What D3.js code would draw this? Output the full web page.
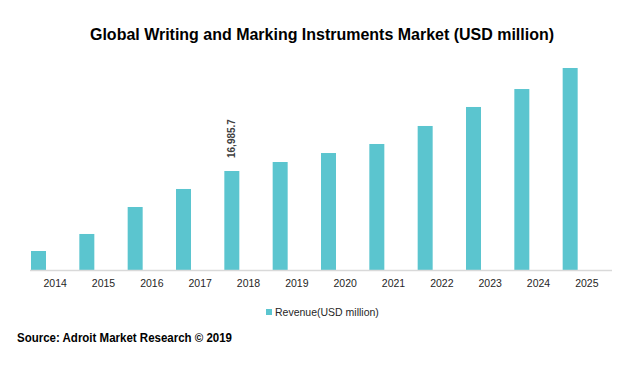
<!DOCTYPE html>
<html>
<head>
<meta charset="utf-8">
<script src="https://cdn.jsdelivr.net/npm/d3@7"></script>
<style>
  body { margin: 0; background: #fff; }
  svg { display: block; }
</style>
</head>
<body>
<script>
'use strict'
const years = ["2014","2015","2016","2017","2018","2019","2020","2021","2022","2023","2024","2025"];
const revenue = [3260, 6180, 10810, 13900, 16985.7, 18530, 20070, 21620, 24710, 27970, 31050, 34660];
const labelledYear = "2018";
const seriesName = "Revenue(USD million)";
const title = "Global Writing and Marking Instruments Market (USD million)";
const source = "Source: Adroit Market Research \u00A9 2019";

const w = 635;
const h = 367;
const baseY = 270;
const barWidth = 15;
const barColor = "#5bc5cf";

const svg = d3.select("body").append("svg")
	.attr("width", w)
	.attr("height", h);

const xScale = d3.scaleBand()
	.domain(years)
	.range([31, 611]);

const yScale = d3.scaleLinear()
	.domain([0, 16985.7])
	.range([baseY, 171]);

svg.append("text")
	.attr("x", 322)
	.attr("y", 40)
	.attr("text-anchor", "middle")
	.attr("textLength", 464)
	.attr("lengthAdjust", "spacingAndGlyphs")
	.style("font-family", "'Liberation Sans', Arial, sans-serif")
	.style("font-weight", "bold")
	.style("font-size", "16px")
	.style("fill", "#000")
	.text(title);

svg.selectAll("rect.bar")
	.data(years)
	.enter()
	.append("rect")
	.attr("class", "bar")
	.attr("fill", barColor)
	.attr("x", (d) => xScale(d))
	.attr("y", (d, i) => yScale(revenue[i]))
	.attr("width", barWidth)
	.attr("height", (d, i) => baseY - yScale(revenue[i]));

// axis line
const xAxis = d3.axisBottom(xScale).tickSize(0).tickPadding(10);
const gx = svg.append("g")
	.attr("transform", "translate(0," + baseY + ")")
	.call(xAxis);
gx.select(".domain").remove();
gx.append("line")
	.attr("x1", 30)
	.attr("x2", 612)
	.attr("y1", 0.5)
	.attr("y2", 0.5)
	.attr("stroke", "#d9d9d9")
	.attr("stroke-width", 1.5);
gx.selectAll("text")
	.style("font-family", "'Liberation Sans', Arial, sans-serif")
	.style("font-size", "10.5px")
	.style("fill", "#262626");

// data label
const li = years.indexOf(labelledYear);
const lx = xScale(labelledYear) + barWidth / 2 + 3;
const ly = yScale(revenue[li]) - 13;
svg.append("text")
	.attr("transform", "translate(" + lx + "," + ly + ") rotate(-90)")
	.style("font-family", "'Liberation Sans', Arial, sans-serif")
	.style("font-weight", "bold")
	.style("font-size", "10px")
	.style("fill", "#404040")
	.text(d3.format(",.1f")(revenue[li]));

// legend
svg.append("rect")
	.attr("x", 266)
	.attr("y", 309)
	.attr("width", 6)
	.attr("height", 6)
	.attr("fill", barColor);
svg.append("text")
	.attr("x", 275)
	.attr("y", 316)
	.style("font-family", "'Liberation Sans', Arial, sans-serif")
	.style("font-size", "10.5px")
	.style("fill", "#262626")
	.text(seriesName);

svg.append("text")
	.attr("x", 17)
	.attr("y", 342)
	.attr("textLength", 215)
	.attr("lengthAdjust", "spacingAndGlyphs")
	.style("font-family", "'Liberation Sans', Arial, sans-serif")
	.style("font-weight", "bold")
	.style("font-size", "12px")
	.style("fill", "#000")
	.text(source);
</script>
</body>
</html>
